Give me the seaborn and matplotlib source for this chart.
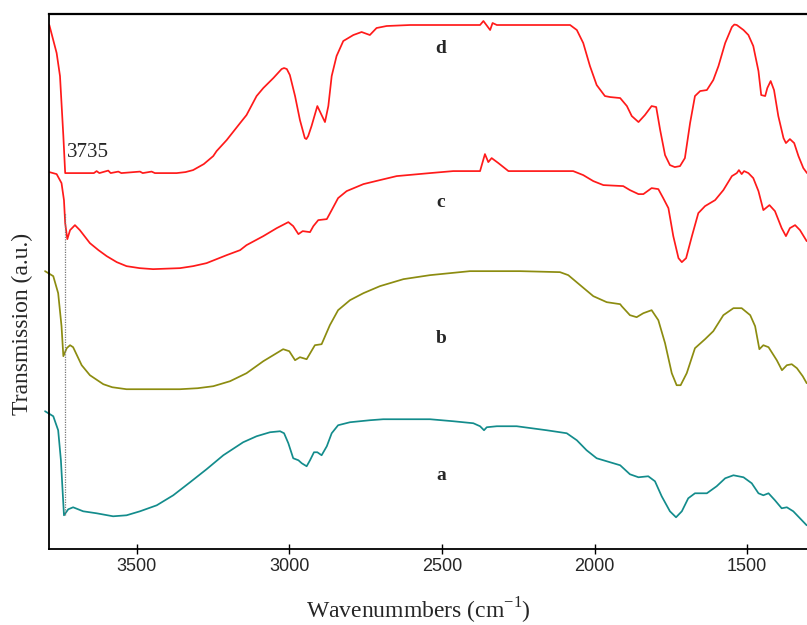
import matplotlib
matplotlib.use("Agg")
import matplotlib.pyplot as plt
import seaborn as sns
import pandas as pd

# ---------------- data (wavenumber in cm-1, transmission in a.u., offset already applied) ----------------
wn_d = [3786, 3762, 3751, 3740, 3734, 3720, 3640, 3631, 3622, 3593, 3585, 3560, 3550, 3489, 3480, 3451, 3440,
        3369, 3340, 3315, 3280, 3249, 3238, 3205, 3161, 3140, 3107, 3085, 3052, 3025, 3017, 3008, 2998, 2981,
        2965, 2949, 2944, 2938, 2927, 2908, 2894, 2883, 2872, 2861, 2845, 2823, 2790, 2763, 2736, 2714, 2681,
        2604, 2539, 2375, 2364, 2342, 2334, 2320, 2080, 2058, 2037, 2015, 1993, 1966, 1949, 1916, 1894, 1878,
        1856, 1835, 1813, 1798, 1785, 1769, 1753, 1737, 1720, 1704, 1687, 1671, 1654, 1632, 1611, 1594, 1572,
        1550, 1542, 1534, 1512, 1496, 1480, 1463, 1454, 1441, 1434, 1423, 1412, 1398, 1381, 1373, 1360, 1346,
        1332, 1316, 1304]
tr_d = [524, 496, 473, 413, 376, 376, 376, 378, 376, 378.5, 376, 377.5, 376, 377.5, 376, 377.5, 376,
        376, 377, 379, 385, 393, 398, 409, 426, 434, 453, 461, 471, 480, 481, 480, 474, 453,
        429, 411, 410, 413, 423, 443, 434, 427, 443, 473, 493, 508, 514, 517, 514, 521, 523,
        524, 524, 524, 528, 519, 526, 524, 524, 519, 506, 483, 464, 453, 452, 451, 443, 433,
        427, 434, 443, 442, 419, 394, 384, 382, 383, 391, 426, 453, 458, 459, 469, 483, 506,
        522, 524.5, 524, 519, 514, 503, 478, 454, 453, 461, 468, 459, 433, 411, 406, 410, 406,
        393, 381, 376]

wn_c = [3786, 3762, 3746, 3738, 3734, 3727, 3718, 3702, 3686, 3653, 3625, 3598, 3565, 3533, 3490, 3446, 3358,
        3315, 3271, 3205, 3161, 3140, 3085, 3041, 3003, 2987, 2970, 2956, 2932, 2921, 2905, 2877, 2861, 2840,
        2812, 2757, 2703, 2648, 2539, 2463, 2375, 2359, 2348, 2337, 2315, 2282, 2070, 2037, 2004, 1971, 1906,
        1884, 1856, 1840, 1813, 1791, 1775, 1758, 1742, 1725, 1714, 1700, 1681, 1660, 1638, 1605, 1578, 1550,
        1534, 1527, 1518, 1510, 1496, 1480, 1463, 1447, 1427, 1409, 1387, 1373, 1360, 1343, 1327, 1305]
tr_c = [377, 375, 366, 349, 326, 310, 319, 324, 319, 306, 299, 293, 287, 283, 281, 280, 281,
        283, 286, 294, 299, 304, 313, 321, 327, 323, 315, 318, 317, 323, 329, 330, 339, 351,
        358, 365, 369, 373, 376, 378, 378, 395, 387, 391, 386, 378, 378, 374, 368, 364, 363,
        359, 355, 355, 361, 360, 351, 341, 313, 291, 287, 291, 313, 336, 343, 349, 359, 373,
        376, 379, 375, 378, 376, 371, 358, 339, 344, 338, 321, 313, 321, 324, 319, 308]

wn_b = [3800, 3773, 3757, 3746, 3740, 3729, 3718, 3708, 3680, 3653, 3609, 3580, 3533, 3358, 3300, 3249, 3194,
        3140, 3085, 3020, 3000, 2981, 2965, 2943, 2916, 2894, 2867, 2840, 2801, 2757, 2703, 2626, 2539, 2408,
        2342, 2244, 2113, 2086, 2047, 2004, 1960, 1916, 1911, 1884, 1862, 1840, 1813, 1791, 1769, 1747, 1731,
        1718, 1698, 1671, 1638, 1611, 1578, 1545, 1518, 1490, 1474, 1460, 1447, 1430, 1403, 1386, 1370, 1354,
        1337, 1318, 1305]
tr_b = [278, 273, 256, 223, 193, 201, 204, 202, 184, 174, 165, 162, 160, 160, 161, 163, 168,
        176, 188, 200, 198, 189, 192, 190, 204, 205, 224, 239, 249, 256, 263, 270, 274, 278,
        278, 278, 277, 274, 264, 253, 247, 245, 243, 234, 232, 236, 239, 229, 206, 176, 164,
        164, 176, 201, 210, 218, 234, 241, 241, 234, 223, 200, 204, 202, 189, 179, 184, 185,
        181, 173, 166]

wn_a = [3800, 3773, 3757, 3748, 3742, 3738, 3724, 3708, 3675, 3631, 3577, 3533, 3489, 3434, 3380, 3325, 3271,
        3216, 3161, 3151, 3107, 3063, 3030, 3017, 3003, 2987, 2970, 2959, 2943, 2932, 2919, 2908, 2894, 2877,
        2861, 2840, 2801, 2736, 2692, 2539, 2463, 2397, 2375, 2362, 2353, 2320, 2255, 2157, 2091, 2058, 2026,
        1993, 1960, 1916, 1884, 1856, 1824, 1802, 1780, 1753, 1733, 1714, 1693, 1671, 1632, 1600, 1572, 1545,
        1512, 1485, 1463, 1447, 1430, 1409, 1387, 1370, 1349, 1327, 1305]
tr_a = [138, 133, 119, 89, 56, 34, 40, 42, 38, 36, 33, 34, 38, 44, 54, 67, 80,
        94, 105, 107, 113, 117, 118, 116, 106, 91, 89, 86, 83, 89, 97, 97, 94, 103,
        116, 124, 127, 129, 130, 130, 128, 126, 123, 119, 122, 123, 123, 119, 116, 109, 99,
        91, 88, 84, 75, 72, 73, 68, 53, 38, 32, 38, 51, 56, 56, 63, 71, 74,
        72, 66, 56, 54, 56, 49, 41, 42, 38, 31, 24]

sample_labels = ["a", "b", "c", "d"]
label_wn = [2503, 2503, 2503, 2503]
label_tr = [74, 211, 347, 501]
colors = ["#138c8c", "#8c8c10", "#ff1a1a", "#ff1a1a"]

peak_wn = 3735
peak_text = "3735"
peak_line_tr = [34, 336]
peak_text_pos = (3727, 397)

x_ticks = [3500, 3000, 2500, 2000, 1500]
x_lim = (3786, 1304)
y_lim = (0, 535)

# ---------------- plot ----------------
sns.set_style("white")
plt.rcParams["font.family"] = ["Liberation Serif", "DejaVu Serif"]

fig = plt.figure(figsize=(8.07, 6.25), dpi=100)
ax = fig.add_axes([0.0611, 0.1211, 0.9389, 0.8565])

series = [(wn_a, tr_a), (wn_b, tr_b), (wn_c, tr_c), (wn_d, tr_d)]
for (wn, tr), lab, col in zip(series, sample_labels, colors):
    df = pd.DataFrame({"wn": wn, "tr": tr})
    sns.lineplot(data=df, x="wn", y="tr", ax=ax, color=col, lw=1.25,
                 estimator=None, sort=False)
for ln in ax.lines[:2]:
    ln.set_clip_on(False)
for ln in ax.lines:
    ln.set_solid_joinstyle("round")

ax.vlines(peak_wn, peak_line_tr[0], peak_line_tr[1], colors="#777777",
          linestyles=(0, (1, 1)), lw=0.9)
ax.text(peak_text_pos[0], peak_text_pos[1], peak_text, fontsize=15,
        ha="left", va="center", family=["Liberation Serif"])

for lab, xw, yt in zip(sample_labels, label_wn, label_tr):
    ax.text(xw, yt, lab, fontsize=14, fontweight="bold", ha="center", va="center",
            family=["Liberation Serif"])

ax.set_xlim(*x_lim)
ax.set_ylim(*y_lim)
ax.set_xticks(x_ticks)
ax.set_xticklabels([str(t) for t in x_ticks], family=["Liberation Sans"], fontsize=13)
ax.set_yticks([])
ax.tick_params(axis="x", direction="inout", length=7, width=1, color="black", pad=3,
               bottom=True)

for side in ["left", "bottom", "top"]:
    ax.spines[side].set_visible(True)
    ax.spines[side].set_color("black")
    ax.spines[side].set_linewidth(1.3)
ax.spines["top"].set_linewidth(1.6)
ax.spines["right"].set_visible(False)

ax.set_xlabel("Wavenummbers (cm$^{\\mathregular{-1}}$)", fontsize=17)
ax.set_ylabel("Transmission (a.u.)", fontsize=17)
ax.xaxis.set_label_coords(0.4866, -0.087)
ax.yaxis.set_label_coords(-0.022, 0.421)

fig.savefig("out.png", dpi=100)
